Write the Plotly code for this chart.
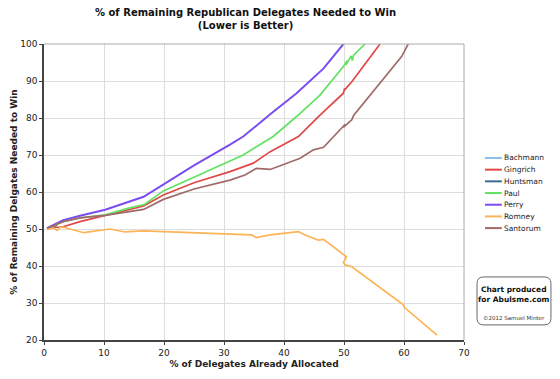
import plotly.graph_objects as go

names = ["Bachmann", "Gingrich", "Huntsman", "Paul", "Perry", "Romney", "Santorum"]
colors = ["#8DBDEB", "#E04848", "#3E6897", "#62E262", "#7A4DF2", "#FDB457", "#A06A6A"]

bachmann_x = [0.5, 1.3]
bachmann_y = [50.2, 50.6]
huntsman_x = [0.5, 1.3, 2.2]
huntsman_y = [50.2, 50.6, 51.0]
gingrich_x = [0.5, 3.2, 6.0, 10.2, 13.8, 16.6, 19.9, 25.0, 31.0, 33.2, 34.9, 37.7, 39.3, 42.4, 46.0, 49.9, 50.1, 50.0, 51.3, 56.0]
gingrich_y = [50.2, 50.6, 52.0, 53.6, 55.0, 56.2, 59.2, 62.5, 65.5, 66.7, 67.8, 70.9, 72.3, 75.0, 80.8, 86.7, 88.0, 87.4, 89.8, 100.0]
paul_x = [0.5, 3.2, 6.0, 10.2, 13.8, 16.8, 19.9, 25.0, 31.0, 33.2, 38.2, 42.1, 46.0, 49.9, 50.5, 50.3, 51.2, 51.4, 51.6, 53.5]
paul_y = [50.2, 52.0, 53.0, 53.8, 55.5, 56.7, 60.3, 64.0, 68.5, 70.0, 75.0, 80.4, 86.2, 93.9, 95.5, 94.3, 96.8, 95.5, 97.0, 100.0]
perry_x = [0.5, 3.2, 6.0, 10.2, 16.6, 19.9, 25.0, 31.0, 33.2, 36.6, 37.7, 42.1, 46.6, 49.9]
perry_y = [50.2, 52.4, 53.6, 55.2, 58.7, 62.0, 67.2, 72.8, 75.0, 79.5, 81.0, 86.7, 93.4, 100.0]
romney_x = [0.5, 1.5, 2.2, 2.7, 3.5, 6.0, 6.6, 11.0, 13.5, 16.6, 20.0, 34.6, 35.4, 37.7, 42.4, 43.5, 45.7, 46.6, 50.4, 49.9, 50.2, 51.3, 59.9, 60.0, 65.5]
romney_y = [49.9, 50.3, 49.6, 50.5, 50.4, 49.1, 49.0, 50.0, 49.2, 49.5, 49.3, 48.4, 47.7, 48.4, 49.3, 48.4, 47.0, 47.2, 42.5, 40.9, 40.3, 39.8, 29.5, 28.9, 21.3]
santorum_x = [0.5, 3.2, 6.0, 10.2, 16.6, 19.9, 25.0, 31.0, 33.5, 35.4, 37.7, 42.7, 44.9, 46.6, 50.2, 49.9, 51.3, 51.6, 59.6, 60.7]
santorum_y = [50.2, 52.0, 53.0, 53.7, 55.3, 58.0, 60.8, 63.2, 64.6, 66.4, 66.1, 69.1, 71.4, 72.1, 78.3, 77.5, 79.5, 80.7, 96.6, 100.0]

series = {
    "Bachmann": (bachmann_x, bachmann_y),
    "Gingrich": (gingrich_x, gingrich_y),
    "Huntsman": (huntsman_x, huntsman_y),
    "Paul": (paul_x, paul_y),
    "Perry": (perry_x, perry_y),
    "Romney": (romney_x, romney_y),
    "Santorum": (santorum_x, santorum_y),
}

x_ticks = [0, 10, 20, 30, 40, 50, 60, 70]
y_ticks = [20, 30, 40, 50, 60, 70, 80, 90, 100]

FONT = "DejaVu Sans"
fig = go.Figure()
for name, col in zip(names, colors):
    xs, ys = series[name]
    fig.add_trace(go.Scatter(x=xs, y=ys, mode="lines", name=name,
                             line=dict(color=col, width=2 if name == "Perry" else 1.7),
                             showlegend=False))

shapes = []
annotations = []
# manual legend
lx0, lx1 = 1.05, 1.09
ly0 = 0.615
dy = 0.0395
for i, (name, col) in enumerate(zip(names, colors)):
    yy = ly0 - i * dy
    shapes.append(dict(type="line", xref="paper", yref="paper", x0=lx0, x1=lx1, y0=yy, y1=yy,
                       line=dict(color=col, width=2)))
    annotations.append(dict(xref="paper", yref="paper", x=lx1 + 0.001, y=yy, text=name,
                            showarrow=False, xanchor="left", yanchor="middle",
                            font=dict(family=FONT, size=7.5, color="#222")))

# credit box (rounded)
bx0, bx1, by0, by1 = 1.031, 1.207, 0.051, 0.213
rx, ry = 0.016, 0.022
path = (f"M {bx0+rx},{by0} L {bx1-rx},{by0} Q {bx1},{by0} {bx1},{by0+ry} "
        f"L {bx1},{by1-ry} Q {bx1},{by1} {bx1-rx},{by1} L {bx0+rx},{by1} "
        f"Q {bx0},{by1} {bx0},{by1-ry} L {bx0},{by0+ry} Q {bx0},{by0} {bx0+rx},{by0} Z")
shapes.append(dict(type="path", xref="paper", yref="paper", path=path,
                   line=dict(color="#666", width=1), fillcolor="white"))
bc = (bx0 + bx1) / 2
annotations.append(dict(xref="paper", yref="paper", x=bc, y=0.155, showarrow=False,
                        text="<b>Chart produced<br>for Abulsme.com</b>",
                        font=dict(family=FONT, size=7.5, color="#111"), align="center",
                        xanchor="center", yanchor="middle"))
annotations.append(dict(xref="paper", yref="paper", x=bc, y=0.075, showarrow=False,
                        text="©2012 Samuel Minter",
                        font=dict(family=FONT, size=5.5, color="#333"),
                        xanchor="center", yanchor="middle"))
# title as centered text above the plot
annotations.append(dict(xref="paper", yref="paper", x=(245 - 44) / 420, y=1.0 + (44 - 19) / 296,
                        showarrow=False, xanchor="center", yanchor="middle", align="center",
                        text="<b>% of Remaining Republican Delegates Needed to Win<br>(Lower is Better)</b>",
                        font=dict(family=FONT, size=10, color="#111")))

fig.update_layout(
    width=560, height=379,
    margin=dict(l=44, r=96, t=44, b=39, autoexpand=False),
    paper_bgcolor="white", plot_bgcolor="white",
    font=dict(family=FONT, size=9, color="#222"),
    xaxis=dict(range=[0, 70], tickvals=x_ticks, showgrid=True, gridcolor="#DDDDDD",
               showline=True, linecolor="#444", linewidth=1.5, mirror=False, zeroline=False,
               ticks="outside", ticklen=3, tickcolor="#444", automargin=False,
               title=dict(text="<b>% of Delegates Already Allocated</b>", standoff=4,
                          font=dict(family=FONT, size=9))),
    yaxis=dict(range=[20, 100], tickvals=y_ticks, showgrid=True, gridcolor="#DDDDDD",
               showline=True, linecolor="#444", linewidth=1.5, zeroline=False,
               ticks="outside", ticklen=3, tickcolor="#444", automargin=False,
               title=dict(text="<b>% of Remaining Delgates Needed to Win</b>", standoff=1,
                          font=dict(family=FONT, size=9))),
    shapes=shapes, annotations=annotations,
)
# right/top border
fig.add_shape(type="line", xref="paper", yref="paper", x0=1, x1=1, y0=0, y1=1,
              line=dict(color="#AAAAAA", width=1))
fig.add_shape(type="line", xref="paper", yref="paper", x0=0, x1=1, y0=1, y1=1,
              line=dict(color="#AAAAAA", width=1))

fig.write_html("out.html", config={"displayModeBar": False},
               post_script="document.body.style.margin='0';document.body.style.overflow='hidden';")
